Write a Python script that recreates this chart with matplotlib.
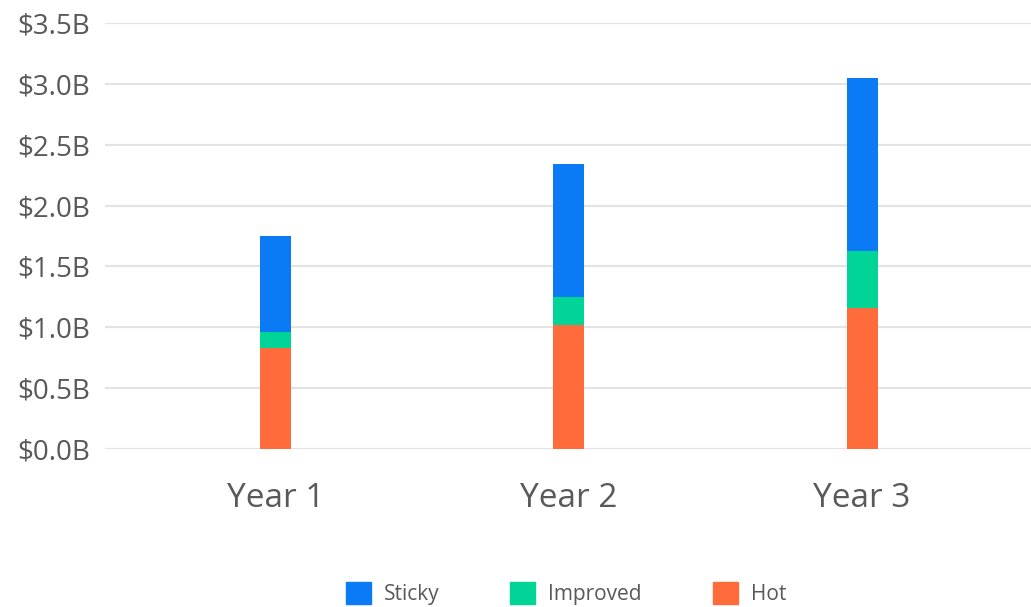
import matplotlib
matplotlib.use("Agg")
import matplotlib.pyplot as plt
import matplotlib.patches as mpatches
import numpy as np

years = ["Year 1", "Year 2", "Year 3"]
hot = [0.83, 1.02, 1.16]
improved = [0.13, 0.225, 0.47]
sticky = [0.79, 1.095, 1.42]

c_sticky = "#0a7bf5"
c_improved = "#00d496"
c_hot = "#ff6b3b"

plt.rcParams["font.family"] = ["Open Sans", "DejaVu Sans"]

fig = plt.figure(figsize=(10.31, 6.07), dpi=100)
ax = fig.add_axes([0.102, 0.2603, 0.898, 0.7017])

x = np.arange(len(years))
w = 0.106
hot = np.array(hot)
improved = np.array(improved)
sticky = np.array(sticky)
ax.bar(x, hot, w, color=c_hot, zorder=3)
ax.bar(x, improved, w, bottom=hot, color=c_improved, zorder=3)
ax.bar(x, sticky, w, bottom=hot + improved, color=c_sticky, zorder=3)

ax.set_xlim(-0.581, 2.576)
ax.set_ylim(0, 3.5)
ax.set_yticks(np.arange(0, 3.51, 0.5))
ax.set_yticklabels(["$%.1fB" % v for v in np.arange(0, 3.51, 0.5)])
ax.set_xticks(x)
ax.set_xticklabels(years)
ax.yaxis.grid(True, color="#e3e3e3", linewidth=1.5, zorder=0)
ax.tick_params(axis="y", length=0, pad=11, labelsize=20, labelcolor="#595959")
ax.tick_params(axis="x", length=0, pad=24, labelsize=24, labelcolor="#595959")
for s in ax.spines.values():
    s.set_visible(False)

handles = [mpatches.Patch(color=c_sticky, label="Sticky"),
           mpatches.Patch(color=c_improved, label="Improved"),
           mpatches.Patch(color=c_hot, label="Hot")]
leg = fig.legend(handles=handles, loc="center", bbox_to_anchor=(0.549, 0.022),
                 ncol=3, frameon=False, fontsize=15, handlelength=1.2,
                 handleheight=1.2, handletextpad=0.62, columnspacing=3.4)
for t in leg.get_texts():
    t.set_color("#595959")

fig.savefig("out.png", dpi=100)
